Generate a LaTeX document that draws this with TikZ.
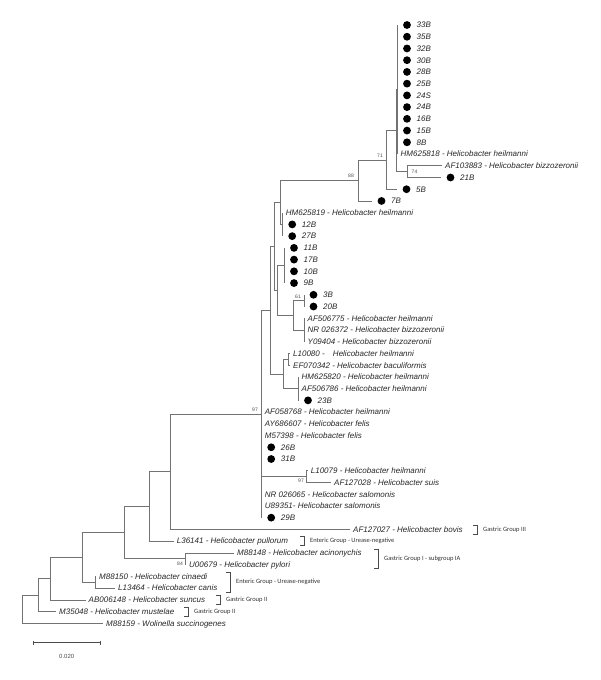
\documentclass[tikz,border=0pt]{standalone}
\usepackage{fontspec}
\setmainfont{Liberation Sans}
\newfontfamily\grpfont{Carlito}
\newcommand\leafT[4]{%
  \coordinate (#1) at (#2,{25+11.73*(#3-1)});
  \node[lab] (#1-l) at (#2+3,{25+11.73*(#3-1)}) {#4};}
\newcommand\leafD[4]{%
  \coordinate (#1) at (#2,{25+11.73*(#3-1)});
  \node[dotm] (#1-d) at (#2+9.5,{25+11.73*(#3-1)}) {};
  \node[lab] (#1-l) at (#2+19,{25+11.73*(#3-1)}) {#4};}
\newcommand\grpbrk[5]{% x, ytop, ybot, ytext, text
  \draw[brk] (#1-4,#2) -- (#1,#2) -- (#1,#3) -- (#1-4,#3);
  \node[grp] at (#1+6,#4) {#5};}
\begin{document}
\begin{tikzpicture}[x=1pt,y=-1pt,
  br/.style={draw=black!55, line width=0.55pt},
  lab/.style={anchor=west, inner sep=0pt, text height=5.7pt, text depth=0pt,
              font=\fontsize{8}{9}\selectfont\itshape, text=black!85},
  dotm/.style={circle, fill=black, inner sep=0pt, minimum size=7.8pt},
  bs/.style={font=\fontsize{5}{6}\selectfont, text=black!70, inner sep=0pt},
  grp/.style={anchor=west, inner sep=0pt, font=\grpfont\fontsize{6.5}{7.5}\selectfont, text=black!80},
  brk/.style={draw=black!70, line width=0.5pt}]
\useasboundingbox (0,0) rectangle (600,680);

% ---------- internal nodes ----------
\coordinate (A)    at (397.5, 89.52);
\coordinate (N74)  at (407.5,171.63);
\coordinate (B)    at (396.5,130.57);
\coordinate (N71)  at (386,  159.90);
\coordinate (N88)  at (358,  180.43);
\coordinate (NHM)  at (282.7,224.41);
\coordinate (NA)   at (280,  202.42);
\coordinate (N11B) at (284.5,265.47);
\coordinate (N61)  at (304,  300.66);
\coordinate (NAF)  at (304.5,329.98);
\coordinate (N15)  at (293.3,315.32);
\coordinate (NB)   at (277.7,290.40);
\coordinate (N11)  at (274,  246.41);
\coordinate (N13)  at (288,  359.31);
\coordinate (N14)  at (298.3,388.63);
\coordinate (N12)  at (283.3,373.97);
\coordinate (N10)  at (270,  310.19);
\coordinate (NL)   at (306.7,476.61);
\coordinate (N9)   at (261.7,413.93);
\coordinate (N8)   at (170,  471.66);
\coordinate (N6)   at (149.3,506.39);
\coordinate (N7)   at (185,  558.72);
\coordinate (N4)   at (124,  532.56);
\coordinate (N5)   at (95,   582.18);
\coordinate (N3)   at (82.7, 557.37);
\coordinate (N2)   at (50.7, 578.57);
\coordinate (N1)   at (38.3, 595.04);
\coordinate (R)    at (22.7, 609.14);

% ---------- leaves ----------
\leafD{s33}{397.5}{1}{33B}
\leafD{s35}{397.5}{2}{35B}
\leafD{s32}{397.5}{3}{32B}
\leafD{s30}{397.5}{4}{30B}
\leafD{s28}{397.5}{5}{28B}
\leafD{s25}{397.5}{6}{25B}
\leafD{s24S}{397.5}{7}{24S}
\leafD{s24}{397.5}{8}{24B}
\leafD{s16}{397.5}{9}{16B}
\leafD{s15}{397.5}{10}{15B}
\leafD{s8}{397.5}{11}{8B}
\leafT{hm818}{397.5}{12}{HM625818 - Helicobacter heilmanni}
\leafT{af103883}{442}{13}{AF103883 - Helicobacter bizzozeronii}
\leafD{s21}{441}{14}{21B}
\leafD{s5}{397}{15}{5B}
\leafD{s7}{372}{16}{7B}
\leafT{hm819}{282.7}{17}{HM625819 - Helicobacter heilmanni}
\leafD{s12}{282.7}{18}{12B}
\leafD{s27}{282.7}{19}{27B}
\leafD{s11}{284.5}{20}{11B}
\leafD{s17}{284.5}{21}{17B}
\leafD{s10}{284.5}{22}{10B}
\leafD{s9}{284.5}{23}{9B}
\leafD{s3}{304}{24}{3B}
\leafD{s20}{304}{25}{20B}
\leafT{af506775}{304.5}{26}{AF506775 - Helicobacter heilmanni}
\leafT{nr026372}{304.5}{27}{NR 026372 - Helicobacter bizzozeronii}
\leafT{y09404}{304.5}{28}{Y09404 - Helicobacter bizzozeronii}
\leafT{l10080}{290}{29}{L10080 -\hspace{6pt} Helicobacter heilmanni}
\leafT{ef070342}{290}{30}{EF070342 - Helicobacter baculiformis}
\leafT{hm820}{298.5}{31}{HM625820 - Helicobacter heilmanni}
\leafT{af506786}{298.5}{32}{AF506786 - Helicobacter heilmanni}
\leafD{s23}{298.5}{33}{23B}
\leafT{af058768}{261.7}{34}{AF058768 - Helicobacter heilmanni}
\leafT{ay686607}{261.7}{35}{AY686607 - Helicobacter felis}
\leafT{m57398}{261.7}{36}{M57398 - Helicobacter felis}
\leafD{s26}{261.7}{37}{26B}
\leafD{s31}{261.7}{38}{31B}
\leafT{l10079}{307.7}{39}{L10079 - Helicobacter heilmanni}
\leafT{af127028}{331}{40}{AF127028 - Helicobacter suis}
\leafT{nr026065}{261.7}{41}{NR 026065 - Helicobacter salomonis}
\leafT{u89351}{261.7}{42}{U89351- Helicobacter salomonis}
\leafD{s29}{261.7}{43}{29B}
\leafT{af127027}{350}{44}{AF127027 - Helicobacter bovis}
\leafT{l36141}{173.7}{45}{L36141 - Helicobacter pullorum}
\leafT{m88148}{234}{46}{M88148 - Helicobacter acinonychis}
\leafT{u00679}{186}{47}{U00679 - Helicobacter pylori}
\leafT{m88150}{96}{48}{M88150 - Helicobacter cinaedi}
\leafT{l13464}{115}{49}{L13464 - Helicobacter canis}
\leafT{ab006148}{85.5}{50}{AB006148 - Helicobacter suncus}
\leafT{m35048}{56}{51}{M35048 - Helicobacter mustelae}
\leafT{m88159}{103}{52}{M88159 - Wolinella succinogenes}

% ---------- branches ----------
\foreach \c in {s33,s35,s32,s30,s28,s25,s24S,s24,s16,s15,s8,hm818} \draw[br] (A) |- (\c);
\draw[br] (B) |- (A);   \draw[br] (B) |- (N74);
\draw[br] (N74) |- (af103883); \draw[br] (N74) |- (s21);
\draw[br] (N71) |- (B); \draw[br] (N71) |- (s5);
\draw[br] (N88) |- (N71); \draw[br] (N88) |- (s7);
\draw[br] (NA) |- (N88); \draw[br] (NA) |- (NHM);
\foreach \c in {hm819,s12,s27} \draw[br] (NHM) |- (\c);
\foreach \c in {s11,s17,s10,s9} \draw[br] (N11B) |- (\c);
\foreach \c in {s3,s20} \draw[br] (N61) |- (\c);
\foreach \c in {af506775,nr026372,y09404} \draw[br] (NAF) |- (\c);
\draw[br] (N15) |- (N61); \draw[br] (N15) |- (NAF);
\draw[br] (NB) |- (N11B); \draw[br] (NB) |- (N15);
\draw[br] (N11) |- (NA); \draw[br] (N11) |- (NB);
\foreach \c in {l10080,ef070342} \draw[br] (N13) |- (\c);
\foreach \c in {hm820,af506786,s23} \draw[br] (N14) |- (\c);
\draw[br] (N12) |- (N13); \draw[br] (N12) |- (N14);
\draw[br] (N10) |- (N11); \draw[br] (N10) |- (N12);
\foreach \c in {l10079,af127028} \draw[br] (NL) |- (\c);
\foreach \c in {N10,af058768,ay686607,m57398,s26,s31,NL,nr026065,u89351,s29} \draw[br] (N9) |- (\c);
\draw[br] (N8) |- (N9); \draw[br] (N8) |- (af127027);
\draw[br] (N6) |- (N8); \draw[br] (N6) |- (l36141);
\draw[br] (N7) |- (m88148); \draw[br] (N7) |- (u00679);
\draw[br] (N4) |- (N6); \draw[br] (N4) |- (N7);
\draw[br] (N5) |- (m88150); \draw[br] (N5) |- (l13464);
\draw[br] (N3) |- (N4); \draw[br] (N3) |- (N5);
\draw[br] (N2) |- (N3); \draw[br] (N2) |- (ab006148);
\draw[br] (N1) |- (N2); \draw[br] (N1) |- (m35048);
\draw[br] (R) |- (N1); \draw[br] (R) |- (m88159);

% ---------- bootstrap values ----------
\node[bs] (b71) at (380,155.5) {71};
\node[bs] (b88) at (351,176) {88};
\node[bs] (b74) at (414.5,171.6) {74};
\node[bs] (b61) at (298,296.5) {61};
\node[bs] (b97a) at (255,409.5) {97};
\node[bs] (b97b) at (301,481) {97};
\node[bs] (b84) at (180,564) {84};

% ---------- group annotations ----------
\grpbrk{477}{525}{534}{529.4}{Gastric Group III}
\grpbrk{304}{536.6}{545.6}{541.1}{Enteric Group - Urease-negative}
\grpbrk{378}{549}{568}{558.7}{Gastric Group I - subgroup IA}
\grpbrk{230}{572.5}{592}{582.2}{Enteric Group - Urease-negative}
\grpbrk{220}{595.3}{604.3}{599.8}{Gastric Group II}
\grpbrk{188}{607}{616}{611.5}{Gastric Group II}

% ---------- scale bar ----------
\coordinate (sb1) at (33.3,642.7);
\coordinate (sb2) at (100,642.7);
\draw[br, draw=black!70] (sb1) -- (sb2);
\draw[br, draw=black!70] ([yshift=-2pt]sb1) -- ([yshift=2pt]sb1);
\draw[br, draw=black!70] ([yshift=-2pt]sb2) -- ([yshift=2pt]sb2);
\node[bs, font=\fontsize{6}{7}\selectfont] (sbl) at (66.7,656) {0.020};
\end{tikzpicture}
\end{document}
